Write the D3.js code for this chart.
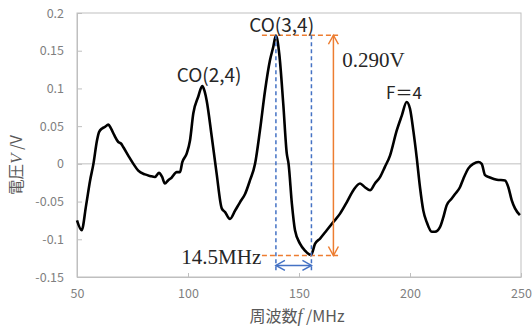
<!DOCTYPE html>
<html>
<head>
<meta charset="utf-8">
<script src="https://cdn.jsdelivr.net/npm/d3@7"></script>
<style>
  body { margin: 0; background: #fff; }
  .tick text { font-family: "Noto Sans CJK JP", "Noto Sans", sans-serif; font-size: 12.5px; fill: #7f7f7f; }
  .lbl { font-family: "Noto Sans CJK JP", "Noto Sans", sans-serif; font-size: 19px; fill: #262626; }
  .val { font-family: "Liberation Serif", serif; font-size: 21px; fill: #262626; }
</style>
</head>
<body>
<div id="chart"></div>
<script>
// traced signal: frequency (MHz) and voltage (V)
const freq = [50, 52.1, 54.1, 55.9, 57.4, 59.0, 59.9, 61.3, 62.6, 64.1, 65.3, 66.8, 68.6, 69.8, 70.9,
  73.1, 75.4, 77.6, 80.6, 82.9, 85.1, 86.9, 88.3, 89.6, 91.0, 92.7, 94.9, 96.4, 97.4, 99.4,
  100.9, 102.4, 104.6, 106.4, 107.4, 108.4, 110.7, 112.9, 115.2, 116.7, 118.9, 121.2, 123.4, 125.7,
  127.9, 130.2, 132.4, 134.7, 136.9, 138.4, 139.6, 141.1, 142.9, 144.5, 145.3, 146.8, 148.2, 150.5,
  152.7, 155.4, 157.2, 159.5, 162.5, 165.5, 168.5, 171.5, 174.5, 177.5, 179.7, 182.0, 184.2, 186.5,
  188.7, 191.0, 194.0, 196.3, 198.5, 200.0, 201.5, 203.0, 204.5, 206.0, 207.5, 209.8, 211.3, 213.5,
  215.0, 216.5, 218.8, 220.3, 222.5, 224.0, 226.3, 228.5, 230.8, 232.3, 233.8, 236.0, 239.1, 242.8,
  244.3, 245.8, 247.3, 249.5];
const volt = [-0.075, -0.088, -0.055, -0.022, 0, 0.031, 0.042, 0.047, 0.049, 0.052, 0.047, 0.038, 0.029, 0.027, 0.022,
  0.011, 0, -0.009, -0.014, -0.016, -0.0175, -0.012, -0.017, -0.026, -0.022, -0.018, -0.011, -0.011, 0.002, 0.0135,
  0.031, 0.067, 0.089, 0.103, 0.097, 0.084, 0.036, -0.013, -0.059, -0.064, -0.073, -0.062, -0.051, -0.04,
  -0.022, 0, 0.044, 0.097, 0.137, 0.155, 0.170, 0.146, 0.08, 0.0135, 0, -0.053, -0.088, -0.106,
  -0.115, -0.121, -0.106, -0.099, -0.088, -0.077, -0.066, -0.051, -0.035, -0.026, -0.031, -0.035, -0.026, -0.0175,
  -0.004, 0.011, 0.044, 0.064, 0.082, 0.073, 0.044, 0.009, -0.031, -0.062, -0.077, -0.09, -0.09, -0.084,
  -0.071, -0.055, -0.046, -0.04, -0.031, -0.02, -0.006, 0, 0.0025, 0, -0.015, -0.018, -0.021, -0.022,
  -0.031, -0.048, -0.059, -0.068];

const xTicks = [50, 100, 150, 200, 250];
const yTicks = [0.2, 0.15, 0.1, 0.05, 0, -0.05, -0.1, -0.15];

// peak labels
const peakNames = ["CO(2,4)", "CO(3,4)", "F\uFF1D4"];
const peakX = [109.5, 142.2, 197.3];
const peakY = [0.108, 0.1744, 0.0855];

// peak height / width annotation
const peakTop = 0.1705, peakBottom = -0.1215;
const guideFrom = 133.3, guideTo = 167.6, heightArrowX = 165.5;
const widthLeft = 139.6, widthRight = 155.6, widthArrowY = -0.1346, widthLineEnd = -0.145;

const W = 532, H = 327;
const margin = { top: 13, right: 11, bottom: 50, left: 77 };
const iw = W - margin.left - margin.right;
const ih = H - margin.top - margin.bottom;

const svg = d3.select("#chart").append("svg").attr("width", W).attr("height", H);
const g = svg.append("g").attr("transform", `translate(${margin.left},${margin.top})`);

const x = d3.scaleLinear().domain([50, 250]).range([0, iw]);
const y = d3.scaleLinear().domain([-0.15, 0.2]).range([ih, 0]);

// plot frame + zero line
g.append("rect").attr("width", iw).attr("height", ih)
  .attr("fill", "none").attr("stroke", "#bfbfbf").attr("stroke-width", 1);
g.append("line").attr("x1", 0).attr("x2", iw).attr("y1", y(0)).attr("y2", y(0))
  .attr("stroke", "#bfbfbf").attr("stroke-width", 1);

const xAxis = g.append("g").attr("transform", `translate(0,${ih})`)
  .call(d3.axisBottom(x).tickValues(xTicks).tickSizeInner(-4).tickSizeOuter(0).tickPadding(12));
const yAxis = g.append("g")
  .call(d3.axisLeft(y).tickValues(yTicks).tickSizeInner(-5).tickSizeOuter(0).tickPadding(13)
    .tickFormat(d => d === 0 ? "0" : String(d)));
[xAxis, yAxis].forEach(a => {
  a.select(".domain").attr("stroke", "#bfbfbf");
  a.selectAll(".tick line").attr("stroke", "#bfbfbf");
});

// axis titles
const xt = svg.append("text").attr("x", 297).attr("y", 322).attr("text-anchor", "middle")
  .attr("font-family", "'Noto Sans CJK JP', sans-serif").attr("font-size", 16).attr("fill", "#595959");
xt.append("tspan").text("周波数");
xt.append("tspan").text("f").attr("font-family", "'Liberation Serif', serif").attr("font-style", "italic").attr("font-size", 18);
xt.append("tspan").text(" /MHz");

const yt = svg.append("text").attr("transform", "translate(22,165) rotate(-90)").attr("text-anchor", "middle")
  .attr("font-family", "'Noto Sans CJK JP', sans-serif").attr("font-size", 15.5).attr("fill", "#595959");
yt.append("tspan").text("電圧");
yt.append("tspan").text("V").attr("font-family", "'Liberation Serif', serif").attr("font-style", "italic").attr("font-size", 17);
yt.append("tspan").text(" /V");

// signal
const pts = freq.map((f, i) => [f, volt[i]]);
g.append("path").datum(pts)
  .attr("fill", "none").attr("stroke", "#000").attr("stroke-width", 2.6).attr("stroke-linejoin", "round")
  .attr("d", d3.line().curve(d3.curveMonotoneX).x(d => x(d[0])).y(d => y(d[1])));

// annotations
const orange = "#ed7d31", blue = "#4472c4";
[peakTop, peakBottom].forEach(v => {
  g.append("line").attr("x1", x(guideFrom)).attr("x2", x(guideTo)).attr("y1", y(v)).attr("y2", y(v))
    .attr("stroke", orange).attr("stroke-width", 1.5).attr("stroke-dasharray", "5,3");
});
[widthLeft, widthRight].forEach(v => {
  g.append("line").attr("x1", x(v)).attr("x2", x(v)).attr("y1", y(peakTop)).attr("y2", y(widthLineEnd))
    .attr("stroke", blue).attr("stroke-width", 1.5).attr("stroke-dasharray", "4,3");
});

function chevron(px, py, dx, dy, col) {
  // open arrow head pointing in direction (dx, dy)
  const len = 9, half = 5;
  const bx = px - dx * len, by = py - dy * len;
  const nx = -dy, ny = dx;
  g.append("path")
    .attr("d", `M${bx + nx * half},${by + ny * half}L${px},${py}L${bx - nx * half},${by - ny * half}`)
    .attr("fill", "none").attr("stroke", col).attr("stroke-width", 1.5);
}
g.append("line").attr("x1", x(heightArrowX)).attr("x2", x(heightArrowX))
  .attr("y1", y(peakTop)).attr("y2", y(peakBottom)).attr("stroke", orange).attr("stroke-width", 1.5);
chevron(x(heightArrowX), y(peakTop), 0, -1, orange);
chevron(x(heightArrowX), y(peakBottom), 0, 1, orange);

g.append("line").attr("x1", x(widthLeft)).attr("x2", x(widthRight))
  .attr("y1", y(widthArrowY)).attr("y2", y(widthArrowY)).attr("stroke", blue).attr("stroke-width", 1.5);
chevron(x(widthLeft), y(widthArrowY), -1, 0, blue);
chevron(x(widthRight), y(widthArrowY), 1, 0, blue);

g.selectAll(".peak").data(peakNames).join("text").attr("class", "lbl")
  .attr("x", (d, i) => x(peakX[i])).attr("y", (d, i) => y(peakY[i])).attr("text-anchor", "middle")
  .attr("font-size", (d, i) => i === 2 ? 17 : null).style("font-size", (d, i) => i === 2 ? "17px" : null)
  .text(d => d);

g.append("text").attr("class", "val").attr("x", x(169.5)).attr("y", y(0.128)).text("0.290V");
g.append("text").attr("class", "val").attr("x", x(133.0)).attr("y", y(-0.1334)).attr("text-anchor", "end").text("14.5MHz");
</script>
</body>
</html>
